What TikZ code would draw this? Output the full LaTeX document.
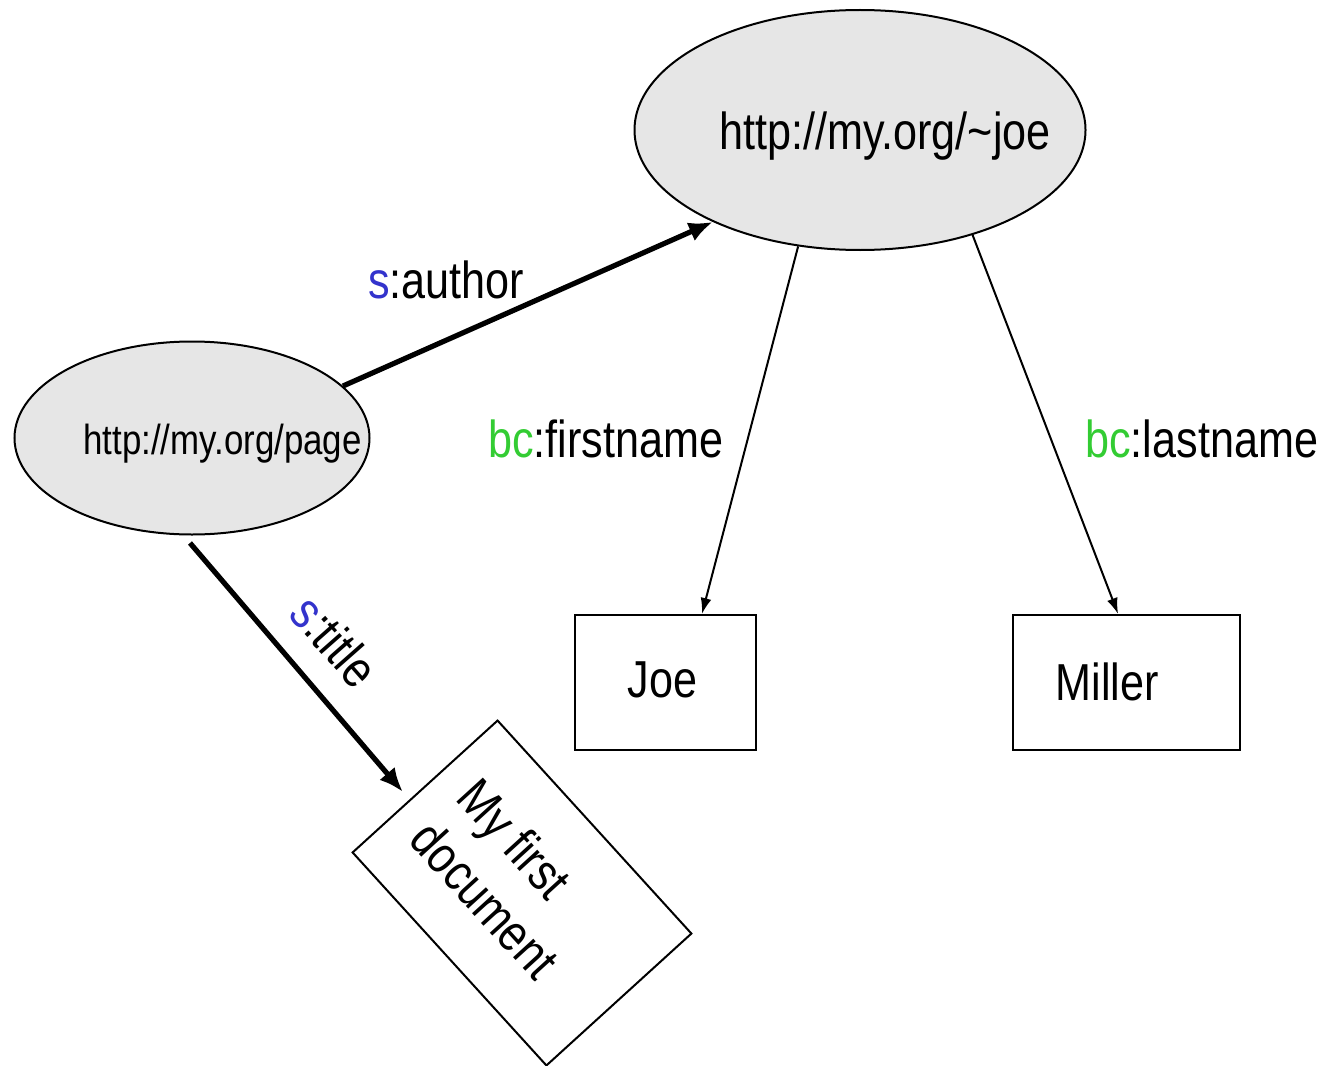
\documentclass[tikz,border=0pt]{standalone}
\usepackage{fontspec}
\setmainfont{Liberation Sans}[FakeStretch=0.83]
\usetikzlibrary{shapes.geometric,arrows.meta}
\definecolor{nsblue}{RGB}{51,51,204}
\definecolor{nsgreen}{RGB}{51,204,51}
\definecolor{resfill}{RGB}{230,230,230}
\newcommand{\bigtxt}{\fontsize{26}{31.5}\selectfont}
\newcommand{\smalltxt}{\fontsize{21}{25}\selectfont}

\begin{document}
\begin{tikzpicture}[x=0.5pt,y=-0.5pt,
  resource/.style={ellipse,draw,line width=1pt,fill=resfill,inner sep=0pt},
  literal/.style={rectangle,draw,line width=1pt,inner sep=0pt,minimum height=67.5pt},
  strong/.style={line width=2.6pt,-{Latex[length=12pt,width=10pt]}},
  weak/.style={line width=1pt,-{Latex[length=8pt,width=5.5pt]}},
  lbl/.style={inner sep=0pt,font=\bigtxt}]
\useasboundingbox (0,0) rectangle (1327,1065);

% resources
\node[resource,minimum width=225.5pt,minimum height=120pt,
  label={[font=\bigtxt,xshift=12.5pt,yshift=-3.25pt]center:http://my.org/\textasciitilde joe}]
  (joe) at (860,130) {};
\node[resource,minimum width=177.5pt,minimum height=96.5pt,
  label={[font=\smalltxt,xshift=15.25pt,yshift=-3pt]center:http://my.org/page}]
  (page) at (192,438) {};

% literals
\node[literal,minimum width=90.5pt,
  label={[font=\bigtxt,xshift=-1.5pt,yshift=1.5pt]center:Joe}] (first) at (665.5,682.5) {};
\node[literal,minimum width=113.5pt,
  label={[font=\bigtxt,xshift=-9.75pt,yshift=0.5pt]center:Miller}] (last) at (1126.5,682.5) {};
\node[literal,minimum width=144pt,minimum height=98pt,rotate=-47.7,
  align=left,font=\bigtxt] (doc) at (522,893) {My first\\document\rule{20pt}{0pt}};

% properties
\draw[strong] (page.19) -- (joe.212);
\draw[strong,shorten <=5pt,shorten >=5pt] (page.265) -- (doc.188);
\draw[weak] (joe.242) -- (first.62);
\draw[weak] (joe.317) -- (last.97);

% property names
\node[lbl,anchor=base west] (lauthor) at (368,298) {\textcolor{nsblue}{s}:author};
\node[lbl,anchor=base west] (lfirst) at (488,457) {\textcolor{nsgreen}{bc}:firstname};
\node[lbl,anchor=base west] (llast) at (1085,457) {\textcolor{nsgreen}{bc}:lastname};
\node[lbl,rotate=-48.6] (ltitle) at (335,641) {\textcolor{nsblue}{s}:title};
\end{tikzpicture}
\end{document}
